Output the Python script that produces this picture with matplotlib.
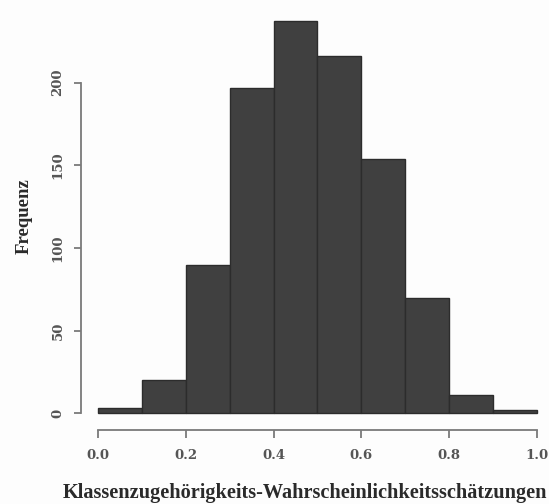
import matplotlib
matplotlib.use("Agg")
import matplotlib.pyplot as plt
import numpy as np

# Data
bin_edges = [0.0, 0.1, 0.2, 0.3, 0.4, 0.5, 0.6, 0.7, 0.8, 0.9, 1.0]
counts = [3, 20, 90, 197, 237, 216, 154, 70, 11, 2]
x_ticks = [0.0, 0.2, 0.4, 0.6, 0.8, 1.0]
x_ticklabels = ["0.0", "0.2", "0.4", "0.6", "0.8", "1.0"]
y_ticks = [0, 50, 100, 150, 200]
y_ticklabels = ["0", "50", "100", "150", "200"]
x_label = "Klassenzugehörigkeits-Wahrscheinlichkeitsschätzungen"
y_label = "Frequenz"

W, H = 549, 504
fig = plt.figure(figsize=(W / 100, H / 100), dpi=100)
fig.patch.set_facecolor("#fdfdfd")

# axes placement (pixels)
ax_left_px, ax_bottom_px = 80.7, 430.0
ax = fig.add_axes([ax_left_px / W, (H - ax_bottom_px) / H,
                   (W - ax_left_px) / W, ax_bottom_px / H])
ax.set_facecolor("none")
ax.set_xlim(-0.04, 1.028)
ax.set_ylim(-10.1, 250)

lefts = bin_edges[:-1]
widths = [b - a for a, b in zip(bin_edges[:-1], bin_edges[1:])]
ax.bar(lefts, counts, width=widths, align="edge", color="#404040",
       edgecolor="#2c2c2c", linewidth=1.0)

for s in ["top", "right"]:
    ax.spines[s].set_visible(False)
axis_col = "#7a7a7a"
ax.spines["left"].set_bounds(0, 200)
ax.spines["bottom"].set_bounds(0, 1)
for s in ["left", "bottom"]:
    ax.spines[s].set_color(axis_col)
    ax.spines[s].set_linewidth(1.3)

font = dict(family="DejaVu Serif", weight="bold")
ax.set_xticks(x_ticks)
ax.set_xticklabels(x_ticklabels, fontsize=9.5, color="#555555", **font)
ax.set_yticks(y_ticks)
ax.set_yticklabels(y_ticklabels, fontsize=9.5, color="#555555", rotation=90,
                   va="center", ha="center", **font)
ax.tick_params(axis="both", direction="out", length=5.4, width=1.3,
               color=axis_col)
ax.tick_params(axis="x", pad=8)
ax.tick_params(axis="y", pad=11)

lfont = dict(family="Liberation Serif", weight="bold")
xl = fig.text(305 / W, 1 - 493 / H, x_label, ha="center", va="center",
              fontsize=13.5, color="#2a2a2a", **lfont)
# fit label width to ~484 px
fig.canvas.draw()
w = xl.get_window_extent().width
xl.set_fontsize(13.5 * 484 / w)
fig.text(24 / W, 1 - 216.5 / H, y_label, ha="center", va="center",
         rotation=90, fontsize=13.5, color="#2a2a2a", **lfont)

fig.savefig("out.png", dpi=100, facecolor=fig.get_facecolor())
